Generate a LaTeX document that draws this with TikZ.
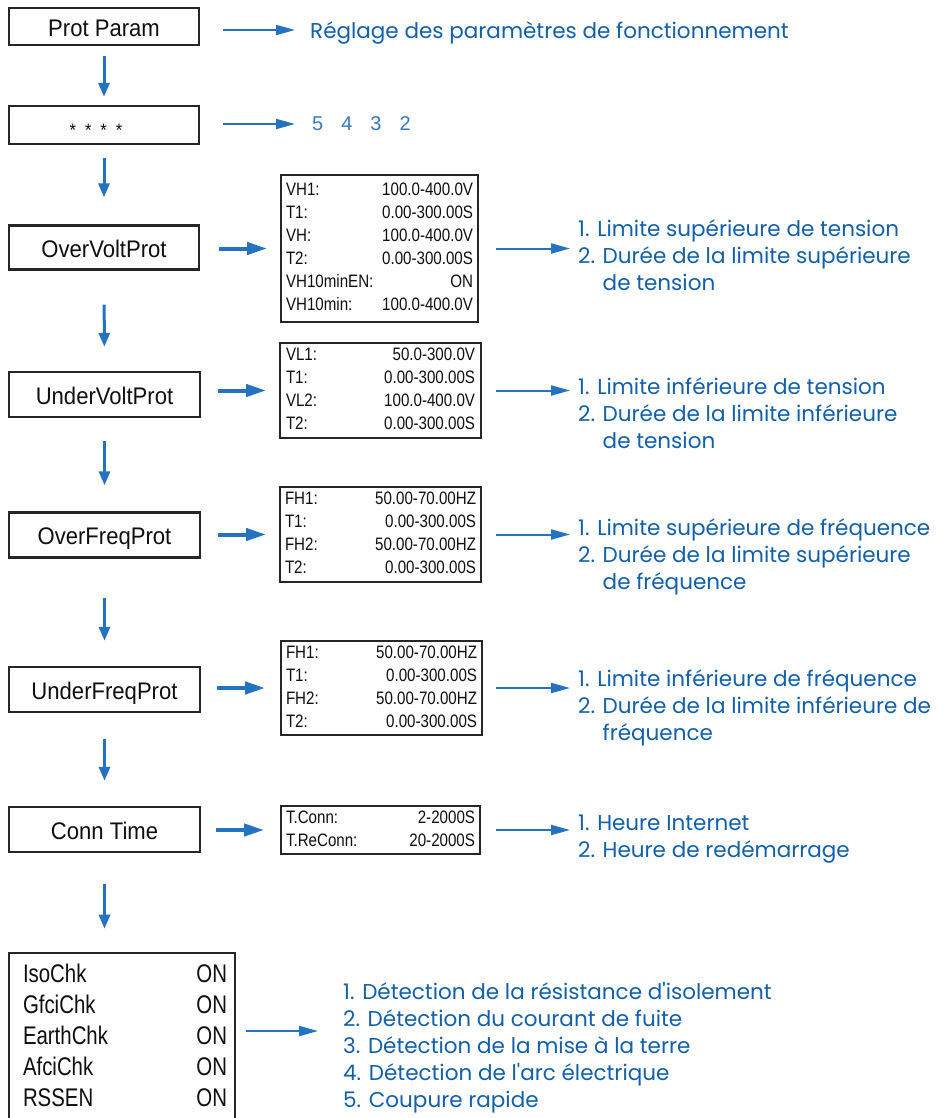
\documentclass[tikz,border=0pt]{standalone}
\usepackage{fontspec}
\setmainfont{Liberation Sans}
\newfontfamily\boxfont[FakeStretch=0.92]{Liberation Sans}
\newfontfamily\panelfont[FakeStretch=0.84]{Liberation Sans}
\newfontfamily\bigpanelfont[FakeStretch=0.8]{Liberation Sans}
\newfontfamily\notefont{Poppins}
\usetikzlibrary{arrows.meta}

\definecolor{notecol}{RGB}{18,96,172}
\definecolor{digitcol}{RGB}{52,122,196}
\definecolor{arrowcol}{RGB}{36,114,192}
\definecolor{framecol}{RGB}{38,38,38}
\definecolor{inkcol}{RGB}{15,15,15}

\begin{document}
\begin{tikzpicture}[x=1pt,y=-1pt,
  menubox/.style={draw=framecol,line width=2.4pt,minimum width=190pt,inner sep=0pt,
    text=inkcol,font=\boxfont\fontsize{24}{24}\selectfont,text height=19.5pt,text depth=0pt},
  panel/.style={draw=framecol,line width=1.8pt,inner sep=0pt,text=inkcol,
    font=\panelfont\fontsize{18}{23}\selectfont},
  note/.style={inner sep=0pt,text=notecol,font=\notefont\fontsize{21.5}{27}\selectfont,align=left},
  downarrow/.style={draw=arrowcol,line width=3pt,-{Triangle[length=14pt,width=11pt]}},
  feedarrow/.style={draw=arrowcol,line width=4pt,-{Triangle[length=20pt,width=12pt]}},
  notearrow/.style={draw=arrowcol,line width=2pt,-{Triangle[length=19pt,width=10pt]}},
]
\useasboundingbox (0,0) rectangle (949,1118);
\fill[white] (0,0) rectangle (949,1118);
\clip (0,0) rectangle (949,1118);

% menu column
\node[menubox,minimum height=37pt] (pp) at (104,26.5) {Prot Param};
\node[menubox,minimum height=38pt,font=\boxfont\fontsize{18}{18}\selectfont,text height=24pt]
  (st) at (104,125) {*\kern9pt*\kern9pt*\kern9pt*\kern16pt};
\node[menubox,minimum height=44pt] (ov) at (104,247.5) {OverVoltProt};
\node[menubox,minimum height=45pt,minimum width=191pt] (uv) at (104.5,394.5) {UnderVoltProt};
\node[menubox,minimum height=45pt,minimum width=191pt] (of) at (104.5,535) {OverFreqProt};
\node[menubox,minimum height=45pt,minimum width=191pt] (uf) at (104.5,689.5) {UnderFreqProt};
\node[menubox,minimum height=45pt,minimum width=191pt] (ct) at (104.5,829.5) {Conn Time};

% check list (runs past the lower edge)
\node[draw=framecol,line width=2.6pt,inner sep=0pt,minimum width=226pt,minimum height=170pt,
  text=inkcol,font=\bigpanelfont\fontsize{25.5}{31}\selectfont] (big) at (122,1038)
  {\hspace{6pt}\begin{tabular*}{204pt}{@{}l@{\extracolsep{\fill}}r@{}}
   IsoChk & ON\\ GfciChk & ON\\ EarthChk & ON\\ AfciChk & ON\\ RSSEN & ON
   \end{tabular*}};

% parameter panels
\node[panel,minimum width=197pt,minimum height=147pt] (vh) at (379.5,248.5)
  {\begin{tabular*}{187pt}{@{}l@{\extracolsep{\fill}}r@{}}
   VH1: & 100.0-400.0V\\ T1: & 0.00-300.00S\\ VH: & 100.0-400.0V\\
   T2: & 0.00-300.00S\\ VH10minEN: & ON\\ VH10min: & 100.0-400.0V
   \end{tabular*}};
\node[panel,minimum width=201pt,minimum height=95pt] (vl) at (380.5,390.5)
  {\begin{tabular*}{189pt}{@{}l@{\extracolsep{\fill}}r@{}}
   VL1: & 50.0-300.0V\\ T1: & 0.00-300.00S\\ VL2: & 100.0-400.0V\\ T2: & 0.00-300.00S
   \end{tabular*}};
\node[panel,minimum width=201pt,minimum height=95pt] (fh) at (380.5,534.5)
  {\begin{tabular*}{191pt}{@{}l@{\extracolsep{\fill}}r@{}}
   FH1: & 50.00-70.00HZ\\ T1: & 0.00-300.00S\\ FH2: & 50.00-70.00HZ\\ T2: & 0.00-300.00S
   \end{tabular*}};
\node[panel,minimum width=201pt,minimum height=94pt] (fl) at (381.5,688)
  {\begin{tabular*}{191pt}{@{}l@{\extracolsep{\fill}}r@{}}
   FH1: & 50.00-70.00HZ\\ T1: & 0.00-300.00S\\ FH2: & 50.00-70.00HZ\\ T2: & 0.00-300.00S
   \end{tabular*}};
\node[panel,minimum width=199pt,minimum height=48pt] (tc) at (380.5,830)
  {\begin{tabular*}{189pt}{@{}l@{\extracolsep{\fill}}r@{}}
   T.Conn: & 2-2000S\\ T.ReConn: & 20-2000S
   \end{tabular*}};

% explanations
\node[note,anchor=west] (n1) at (310,33) {Réglage des paramètres de fonctionnement};
\node[inner sep=0pt,anchor=west,text=digitcol,font=\fontsize{20}{20}\selectfont] (n2) at (312,124)
  {5\hspace{18pt}4\hspace{18pt}3\hspace{18pt}2};
\node[note,anchor=west] (l1) at (578,255)
  {1. Limite supérieure de tension\\2. Durée de la limite supérieure\\\phantom{2. }de tension};
\node[note,anchor=west] (l2) at (578,413)
  {1. Limite inférieure de tension\\2. Durée de la limite inférieure\\\phantom{2. }de tension};
\node[note,anchor=west] (l3) at (578,557)
  {1. Limite supérieure de fréquence\\2. Durée de la limite supérieure\\\phantom{2. }de fréquence};
\node[note,anchor=west] (l4) at (578,708)
  {1. Limite inférieure de fréquence\\2. Durée de la limite inférieure de\\\phantom{2. }fréquence};
\node[note,anchor=west] (l5) at (578,839.5)
  {1. Heure Internet\\2. Heure de redémarrage};
\node[note,anchor=west] (l6) at (343,1048)
  {1. Détection de la résistance d\textquotesingle isolement\\2. Détection du courant de fuite\\3. Détection de la mise à la terre\\4. Détection de l\textquotesingle arc électrique\\5. Coupure rapide};

% flow downwards
\draw[downarrow,shorten <=10pt,shorten >=8pt] (pp) -- (st);
\draw[downarrow,shorten <=13pt,shorten >=27pt] (st) -- (ov);
\draw[downarrow,shorten <=34pt,shorten >=24pt] (ov) -- (uv);
\draw[downarrow,shorten <=23pt,shorten >=26pt] (uv) -- (of);
\draw[downarrow,shorten <=39pt,shorten >=25pt] (of) -- (uf);
\draw[downarrow,shorten <=26pt,shorten >=25pt] (uf) -- (ct);
\draw[downarrow,shorten <=31pt,shorten >=23pt] (ct.south) -- (ct.south |- big.north);

% menu to panel
\draw[feedarrow,shorten <=19pt,shorten >=13pt] (ov.east |- vh.west) -- (vh.west);
\draw[feedarrow,shorten <=17pt,shorten >=13pt] (uv.east |- vl.west) -- (vl.west);
\draw[feedarrow,shorten <=17pt,shorten >=13pt] (of.east |- fh.west) -- (fh.west);
\draw[feedarrow,shorten <=16pt,shorten >=15pt] (uf.east |- fl.west) -- (fl.west);
\draw[feedarrow,shorten <=15pt,shorten >=16pt] (ct.east |- tc.west) -- (tc.west);

% panel to explanation
\draw[notearrow,shorten <=23pt,shorten >=15pt] ([yshift=3pt]pp.east |- n1.west) -- ([yshift=3pt]n1.west);
\draw[notearrow,shorten <=23pt,shorten >=17pt] (st.east |- n2.west) -- (n2.west);
\draw[notearrow,shorten <=17pt,shorten >=8pt] (vh.east) -- (vh.east -| l1.west);
\draw[notearrow,shorten <=14pt,shorten >=8pt] (vl.east) -- (vl.east -| l2.west);
\draw[notearrow,shorten <=14pt,shorten >=8pt] (fh.east) -- (fh.east -| l3.west);
\draw[notearrow,shorten <=13pt,shorten >=8pt] (fl.east) -- (fl.east -| l4.west);
\draw[notearrow,shorten <=15pt,shorten >=8pt] (tc.east) -- (tc.east -| l5.west);
\draw[notearrow,shorten <=10pt,shorten >=25pt] ([yshift=7pt]big.east) -- ([yshift=7pt]big.east -| l6.west);
\end{tikzpicture}
\end{document}
